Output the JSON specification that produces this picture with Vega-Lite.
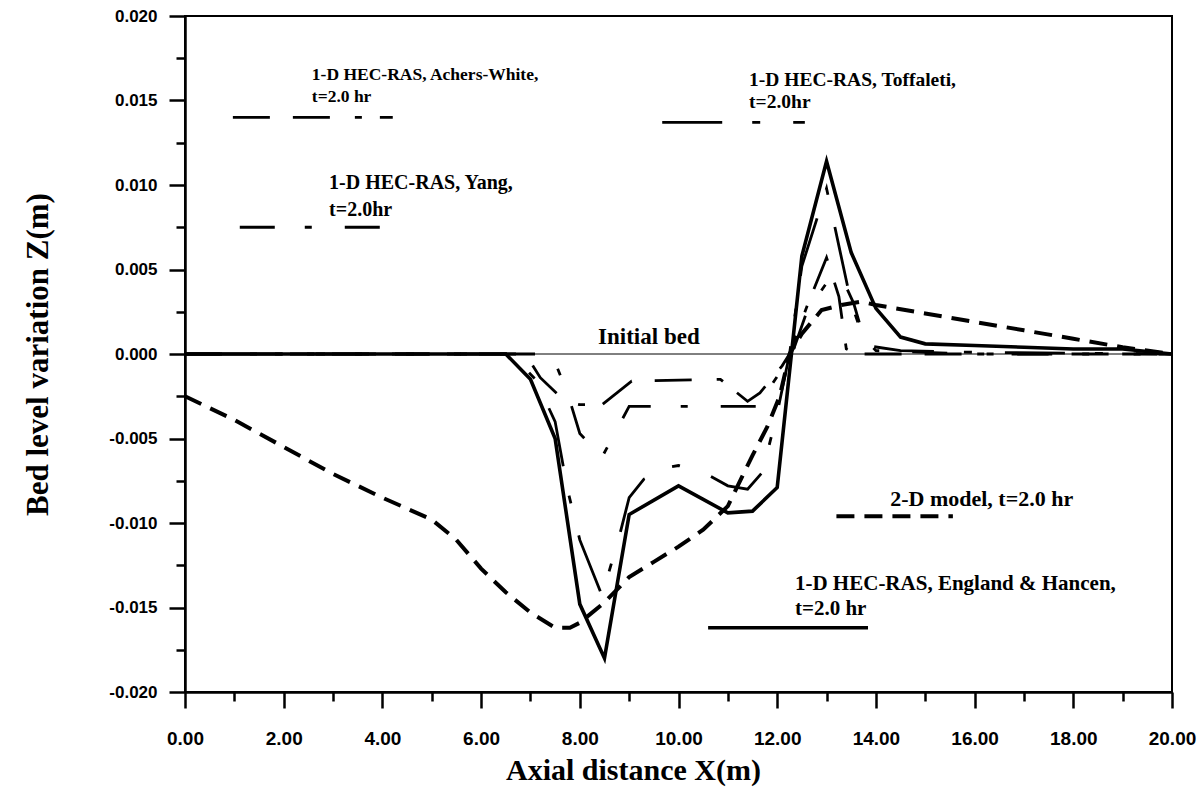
{
  "$schema": "https://vega.github.io/schema/vega-lite/v6.json",
  "width": 987,
  "height": 676,
  "autosize": {"type": "none"},
  "padding": {"left": 185, "top": 16, "right": 32, "bottom": 100},
  "background": "white",
  "config": {"view": {"stroke": "black", "strokeWidth": 2}},
  "datasets": {
    "curves": [
      {"series":"England","part":"curve","x":0,"z":0},{"series":"England","part":"curve","x":6.5,"z":0},{"series":"England","part":"curve","x":7.0,"z":-0.0015},{"series":"England","part":"curve","x":7.5,"z":-0.005},{"series":"England","part":"curve","x":8.0,"z":-0.0148},{"series":"England","part":"curve","x":8.5,"z":-0.018},{"series":"England","part":"curve","x":9.0,"z":-0.0095},{"series":"England","part":"curve","x":10.0,"z":-0.0078},{"series":"England","part":"curve","x":11.0,"z":-0.0094},{"series":"England","part":"curve","x":11.5,"z":-0.0093},{"series":"England","part":"curve","x":12.0,"z":-0.0079},{"series":"England","part":"curve","x":12.5,"z":0.0058},{"series":"England","part":"curve","x":13.0,"z":0.0114},{"series":"England","part":"curve","x":13.5,"z":0.006},{"series":"England","part":"curve","x":14.0,"z":0.0027},{"series":"England","part":"curve","x":14.5,"z":0.001},{"series":"England","part":"curve","x":15.0,"z":0.0006},{"series":"England","part":"curve","x":16,"z":0.0005},{"series":"England","part":"curve","x":17,"z":0.0004},{"series":"England","part":"curve","x":18,"z":0.0003},{"series":"England","part":"curve","x":19,"z":0.0003},{"series":"England","part":"curve","x":20,"z":0},
      {"series":"England","part":"key","x":10.6,"z":-0.0162},{"series":"England","part":"key","x":13.84,"z":-0.0162},
      {"series":"TwoD","part":"curve","x":0,"z":-0.0025},{"series":"TwoD","part":"curve","x":1,"z":-0.0039},{"series":"TwoD","part":"curve","x":2,"z":-0.0055},{"series":"TwoD","part":"curve","x":3,"z":-0.0071},{"series":"TwoD","part":"curve","x":4,"z":-0.0085},{"series":"TwoD","part":"curve","x":5,"z":-0.0098},{"series":"TwoD","part":"curve","x":5.5,"z":-0.011},{"series":"TwoD","part":"curve","x":6,"z":-0.0127},{"series":"TwoD","part":"curve","x":6.5,"z":-0.0141},{"series":"TwoD","part":"curve","x":7,"z":-0.0153},{"series":"TwoD","part":"curve","x":7.5,"z":-0.0162},{"series":"TwoD","part":"curve","x":7.8,"z":-0.0162},{"series":"TwoD","part":"curve","x":8.0,"z":-0.0159},{"series":"TwoD","part":"curve","x":8.5,"z":-0.0147},{"series":"TwoD","part":"curve","x":9.0,"z":-0.0132},{"series":"TwoD","part":"curve","x":9.5,"z":-0.0123},{"series":"TwoD","part":"curve","x":10,"z":-0.0114},{"series":"TwoD","part":"curve","x":10.5,"z":-0.0104},{"series":"TwoD","part":"curve","x":11,"z":-0.009},{"series":"TwoD","part":"curve","x":11.5,"z":-0.006},{"series":"TwoD","part":"curve","x":11.8,"z":-0.0043},{"series":"TwoD","part":"curve","x":12.05,"z":-0.0025},{"series":"TwoD","part":"curve","x":12.25,"z":0},{"series":"TwoD","part":"curve","x":12.5,"z":0.0012},{"series":"TwoD","part":"curve","x":12.9,"z":0.0026},{"series":"TwoD","part":"curve","x":13.3,"z":0.0029},{"series":"TwoD","part":"curve","x":13.7,"z":0.0031},{"series":"TwoD","part":"curve","x":14,"z":0.0029},{"series":"TwoD","part":"curve","x":15,"z":0.0024},{"series":"TwoD","part":"curve","x":16,"z":0.0019},{"series":"TwoD","part":"curve","x":17,"z":0.0014},{"series":"TwoD","part":"curve","x":18,"z":0.0009},{"series":"TwoD","part":"curve","x":19,"z":0.0004},{"series":"TwoD","part":"curve","x":20,"z":0},
      {"series":"TwoD","part":"key","x":13.2,"z":-0.0096},{"series":"TwoD","part":"key","x":15.56,"z":-0.0096},
      {"series":"Toffaleti","part":"curve","x":0,"z":0},{"series":"Toffaleti","part":"curve","x":6.6,"z":0},{"series":"Toffaleti","part":"curve","x":7.1,"z":-0.0015},{"series":"Toffaleti","part":"curve","x":7.5,"z":-0.004},{"series":"Toffaleti","part":"curve","x":7.75,"z":-0.008},{"series":"Toffaleti","part":"curve","x":8.0,"z":-0.011},{"series":"Toffaleti","part":"curve","x":8.45,"z":-0.0143},{"series":"Toffaleti","part":"curve","x":8.8,"z":-0.0108},{"series":"Toffaleti","part":"curve","x":9.0,"z":-0.0085},{"series":"Toffaleti","part":"curve","x":9.3,"z":-0.0074},{"series":"Toffaleti","part":"curve","x":9.8,"z":-0.0067},{"series":"Toffaleti","part":"curve","x":10,"z":-0.0066},{"series":"Toffaleti","part":"curve","x":10.5,"z":-0.007},{"series":"Toffaleti","part":"curve","x":11,"z":-0.0078},{"series":"Toffaleti","part":"curve","x":11.4,"z":-0.008},{"series":"Toffaleti","part":"curve","x":11.7,"z":-0.007},{"series":"Toffaleti","part":"curve","x":12.0,"z":-0.0035},{"series":"Toffaleti","part":"curve","x":12.25,"z":0},{"series":"Toffaleti","part":"curve","x":12.5,"z":0.0052},{"series":"Toffaleti","part":"curve","x":13.0,"z":0.0098},{"series":"Toffaleti","part":"curve","x":13.25,"z":0.0064},{"series":"Toffaleti","part":"curve","x":13.5,"z":0.003},{"series":"Toffaleti","part":"curve","x":13.8,"z":0.0005},{"series":"Toffaleti","part":"curve","x":14.5,"z":0.0002},{"series":"Toffaleti","part":"curve","x":16,"z":0.0001},{"series":"Toffaleti","part":"curve","x":20,"z":0},
      {"series":"Toffaleti","part":"key","x":9.67,"z":0.0137},{"series":"Toffaleti","part":"key","x":12.56,"z":0.0137},
      {"series":"Achers","part":"curve","x":0,"z":0},{"series":"Achers","part":"curve","x":6.9,"z":0},{"series":"Achers","part":"curve","x":7.2,"z":-0.0014},{"series":"Achers","part":"curve","x":7.7,"z":-0.0028},{"series":"Achers","part":"curve","x":8.0,"z":-0.003},{"series":"Achers","part":"curve","x":8.45,"z":-0.003},{"series":"Achers","part":"curve","x":9.05,"z":-0.0016},{"series":"Achers","part":"curve","x":10.85,"z":-0.0015},{"series":"Achers","part":"curve","x":11.4,"z":-0.0028},{"series":"Achers","part":"curve","x":11.65,"z":-0.0023},{"series":"Achers","part":"curve","x":12.1,"z":-0.0007},{"series":"Achers","part":"curve","x":12.25,"z":0},{"series":"Achers","part":"curve","x":12.6,"z":0.0028},{"series":"Achers","part":"curve","x":13.0,"z":0.0057},{"series":"Achers","part":"curve","x":13.25,"z":0.0034},{"series":"Achers","part":"curve","x":13.4,"z":0.0003},{"series":"Achers","part":"curve","x":13.6,"z":0},{"series":"Achers","part":"curve","x":20,"z":0},
      {"series":"Achers","part":"key","x":0.97,"z":0.014},{"series":"Achers","part":"key","x":4.21,"z":0.014},
      {"series":"Yang","part":"curve","x":0,"z":0},{"series":"Yang","part":"curve","x":7.3,"z":0},{"series":"Yang","part":"curve","x":7.5,"z":-0.0005},{"series":"Yang","part":"curve","x":7.75,"z":-0.0023},{"series":"Yang","part":"curve","x":8.0,"z":-0.0047},{"series":"Yang","part":"curve","x":8.45,"z":-0.0061},{"series":"Yang","part":"curve","x":9.0,"z":-0.0031},{"series":"Yang","part":"curve","x":11.6,"z":-0.0031},{"series":"Yang","part":"curve","x":12.3,"z":0},{"series":"Yang","part":"curve","x":12.6,"z":0.0025},{"series":"Yang","part":"curve","x":13.0,"z":0.0042},{"series":"Yang","part":"curve","x":13.3,"z":0.0046},{"series":"Yang","part":"curve","x":13.55,"z":0.003},{"series":"Yang","part":"curve","x":13.75,"z":0.001},{"series":"Yang","part":"curve","x":14.0,"z":0.0002},{"series":"Yang","part":"curve","x":15,"z":0.0001},{"series":"Yang","part":"curve","x":16,"z":0},{"series":"Yang","part":"curve","x":20,"z":0},
      {"series":"Yang","part":"key","x":1.11,"z":0.0075},{"series":"Yang","part":"key","x":3.95,"z":0.0075},
      {"series":"Initial","part":"curve","x":0,"z":0},{"series":"Initial","part":"curve","x":20,"z":0}
    ],
    "notes": [
      {"grp":"ach","x":2.57,"z":0.0165,"t":"1-D HEC-RAS, Achers-White,"},
      {"grp":"ach","x":2.57,"z":0.0152,"t":"t=2.0 hr"},
      {"grp":"yang","x":2.92,"z":0.0101,"t":"1-D HEC-RAS, Yang,"},
      {"grp":"yang","x":2.92,"z":0.0085,"t":"t=2.0hr"},
      {"grp":"toff","x":11.43,"z":0.0162,"t":"1-D HEC-RAS, Toffaleti,"},
      {"grp":"toff","x":11.43,"z":0.0149,"t":"t=2.0hr"},
      {"grp":"twod","x":14.29,"z":-0.0086,"t":"2-D model, t=2.0 hr"},
      {"grp":"eng","x":12.36,"z":-0.0136,"t":"1-D HEC-RAS, England & Hancen,"},
      {"grp":"eng","x":12.36,"z":-0.0151,"t":"t=2.0 hr"},
      {"grp":"init","x":8.37,"z":0.001,"t":"Initial bed"}
    ]
  },
  "encoding": {
    "x": {
      "field": "x", "type": "quantitative",
      "scale": {"domain": [0, 20], "nice": false, "zero": false},
      "axis": {
        "values": [0,1,2,3,4,5,6,7,8,9,10,11,12,13,14,15,16,17,18,19,20],
        "labelExpr": "datum.value % 2 === 0 ? format(datum.value, '.2f') : ''",
        "tickSize": {"condition": {"test": "datum.value % 2 === 0", "value": 16}, "value": 9},
        "title": "Axial distance X(m)",
        "titleFont": "Liberation Serif", "titleFontWeight": "bold", "titleFontSize": 30, "titlePadding": 7, "titleColor": "black",
        "titleX": 448, "titleAlign": "center",
        "labelFont": "Liberation Sans", "labelFontWeight": "bold", "labelFontSize": 19, "labelPadding": 21, "labelColor": "black",
        "labelFlush": false, "labelOverlap": false, "labelBound": false,
        "domainColor": "black", "domainWidth": 2.5, "tickColor": "black", "tickWidth": 2.5, "grid": false
      }
    },
    "y": {
      "field": "z", "type": "quantitative",
      "scale": {"domain": [-0.02, 0.02], "nice": false, "zero": false},
      "axis": {
        "values": [-0.02,-0.0175,-0.015,-0.0125,-0.01,-0.0075,-0.005,-0.0025,0,0.0025,0.005,0.0075,0.01,0.0125,0.015,0.0175,0.02],
        "labelExpr": "abs(datum.value*200 - round(datum.value*200)) < 0.01 ? (datum.value < -0.0001 ? '-' : '') + format(abs(datum.value), '.3f') : ''",
        "tickSize": {"condition": {"test": "abs(datum.value*200 - round(datum.value*200)) < 0.01", "value": 16}, "value": 9},
        "title": "Bed level variation Z(m)",
        "titleFont": "Liberation Serif", "titleFontWeight": "bold", "titleFontSize": 31, "titlePadding": 54, "titleColor": "black",
        "labelFont": "Liberation Sans", "labelFontWeight": "bold", "labelFontSize": 17, "labelPadding": 12, "labelColor": "black",
        "labelFlush": false, "labelOverlap": false, "labelBound": false,
        "domainColor": "black", "domainWidth": 2.5, "tickColor": "black", "tickWidth": 2.5, "grid": false
      }
    }
  },
  "layer": [
    {
      "data": {"name": "curves"},
      "transform": [{"filter": "datum.series === 'Initial'"}],
      "mark": {"type": "line", "color": "black", "strokeWidth": 1},
      "encoding": {"detail": {"field": "part", "type": "nominal"}}
    },
    {
      "data": {"name": "curves"},
      "transform": [{"filter": "datum.series === 'England'"}],
      "mark": {"type": "line", "color": "black", "strokeWidth": 3.6},
      "encoding": {"detail": {"field": "part", "type": "nominal"}}
    },
    {
      "data": {"name": "curves"},
      "transform": [{"filter": "datum.series === 'TwoD'"}],
      "mark": {"type": "line", "color": "black", "strokeWidth": 4, "strokeDash": [18, 10], "strokeCap": "butt"},
      "encoding": {"detail": {"field": "part", "type": "nominal"}}
    },
    {
      "data": {"name": "curves"},
      "transform": [{"filter": "datum.series === 'Toffaleti'"}],
      "mark": {"type": "line", "color": "black", "strokeWidth": 2.8, "strokeDash": [60, 30, 8, 33], "strokeCap": "butt"},
      "encoding": {"detail": {"field": "part", "type": "nominal"}}
    },
    {
      "data": {"name": "curves"},
      "transform": [{"filter": "datum.series === 'Achers'"}],
      "mark": {"type": "line", "color": "black", "strokeWidth": 2.8, "strokeDash": [37, 23, 37, 25, 7, 18], "strokeCap": "butt"},
      "encoding": {"detail": {"field": "part", "type": "nominal"}}
    },
    {
      "data": {"name": "curves"},
      "transform": [{"filter": "datum.series === 'Yang'"}],
      "mark": {"type": "line", "color": "black", "strokeWidth": 2.8, "strokeDash": [35, 30, 7, 33], "strokeCap": "butt"},
      "encoding": {"detail": {"field": "part", "type": "nominal"}}
    },
    {
      "data": {"name": "notes"},
      "transform": [{"filter": "datum.grp === 'ach'"}],
      "mark": {"type": "text", "align": "left", "baseline": "middle", "font": "Liberation Serif", "fontWeight": "bold", "fontSize": 17.5, "color": "black"},
      "encoding": {"text": {"field": "t", "type": "nominal"}}
    },
    {
      "data": {"name": "notes"},
      "transform": [{"filter": "datum.grp === 'yang'"}],
      "mark": {"type": "text", "align": "left", "baseline": "middle", "font": "Liberation Serif", "fontWeight": "bold", "fontSize": 20, "color": "black"},
      "encoding": {"text": {"field": "t", "type": "nominal"}}
    },
    {
      "data": {"name": "notes"},
      "transform": [{"filter": "datum.grp === 'toff'"}],
      "mark": {"type": "text", "align": "left", "baseline": "middle", "font": "Liberation Serif", "fontWeight": "bold", "fontSize": 19.5, "color": "black"},
      "encoding": {"text": {"field": "t", "type": "nominal"}}
    },
    {
      "data": {"name": "notes"},
      "transform": [{"filter": "datum.grp === 'twod'"}],
      "mark": {"type": "text", "align": "left", "baseline": "middle", "font": "Liberation Serif", "fontWeight": "bold", "fontSize": 22, "color": "black"},
      "encoding": {"text": {"field": "t", "type": "nominal"}}
    },
    {
      "data": {"name": "notes"},
      "transform": [{"filter": "datum.grp === 'eng'"}],
      "mark": {"type": "text", "align": "left", "baseline": "middle", "font": "Liberation Serif", "fontWeight": "bold", "fontSize": 21, "color": "black"},
      "encoding": {"text": {"field": "t", "type": "nominal"}}
    },
    {
      "data": {"name": "notes"},
      "transform": [{"filter": "datum.grp === 'init'"}],
      "mark": {"type": "text", "align": "left", "baseline": "middle", "font": "Liberation Serif", "fontWeight": "bold", "fontSize": 23, "color": "black"},
      "encoding": {"text": {"field": "t", "type": "nominal"}}
    }
  ]
}
